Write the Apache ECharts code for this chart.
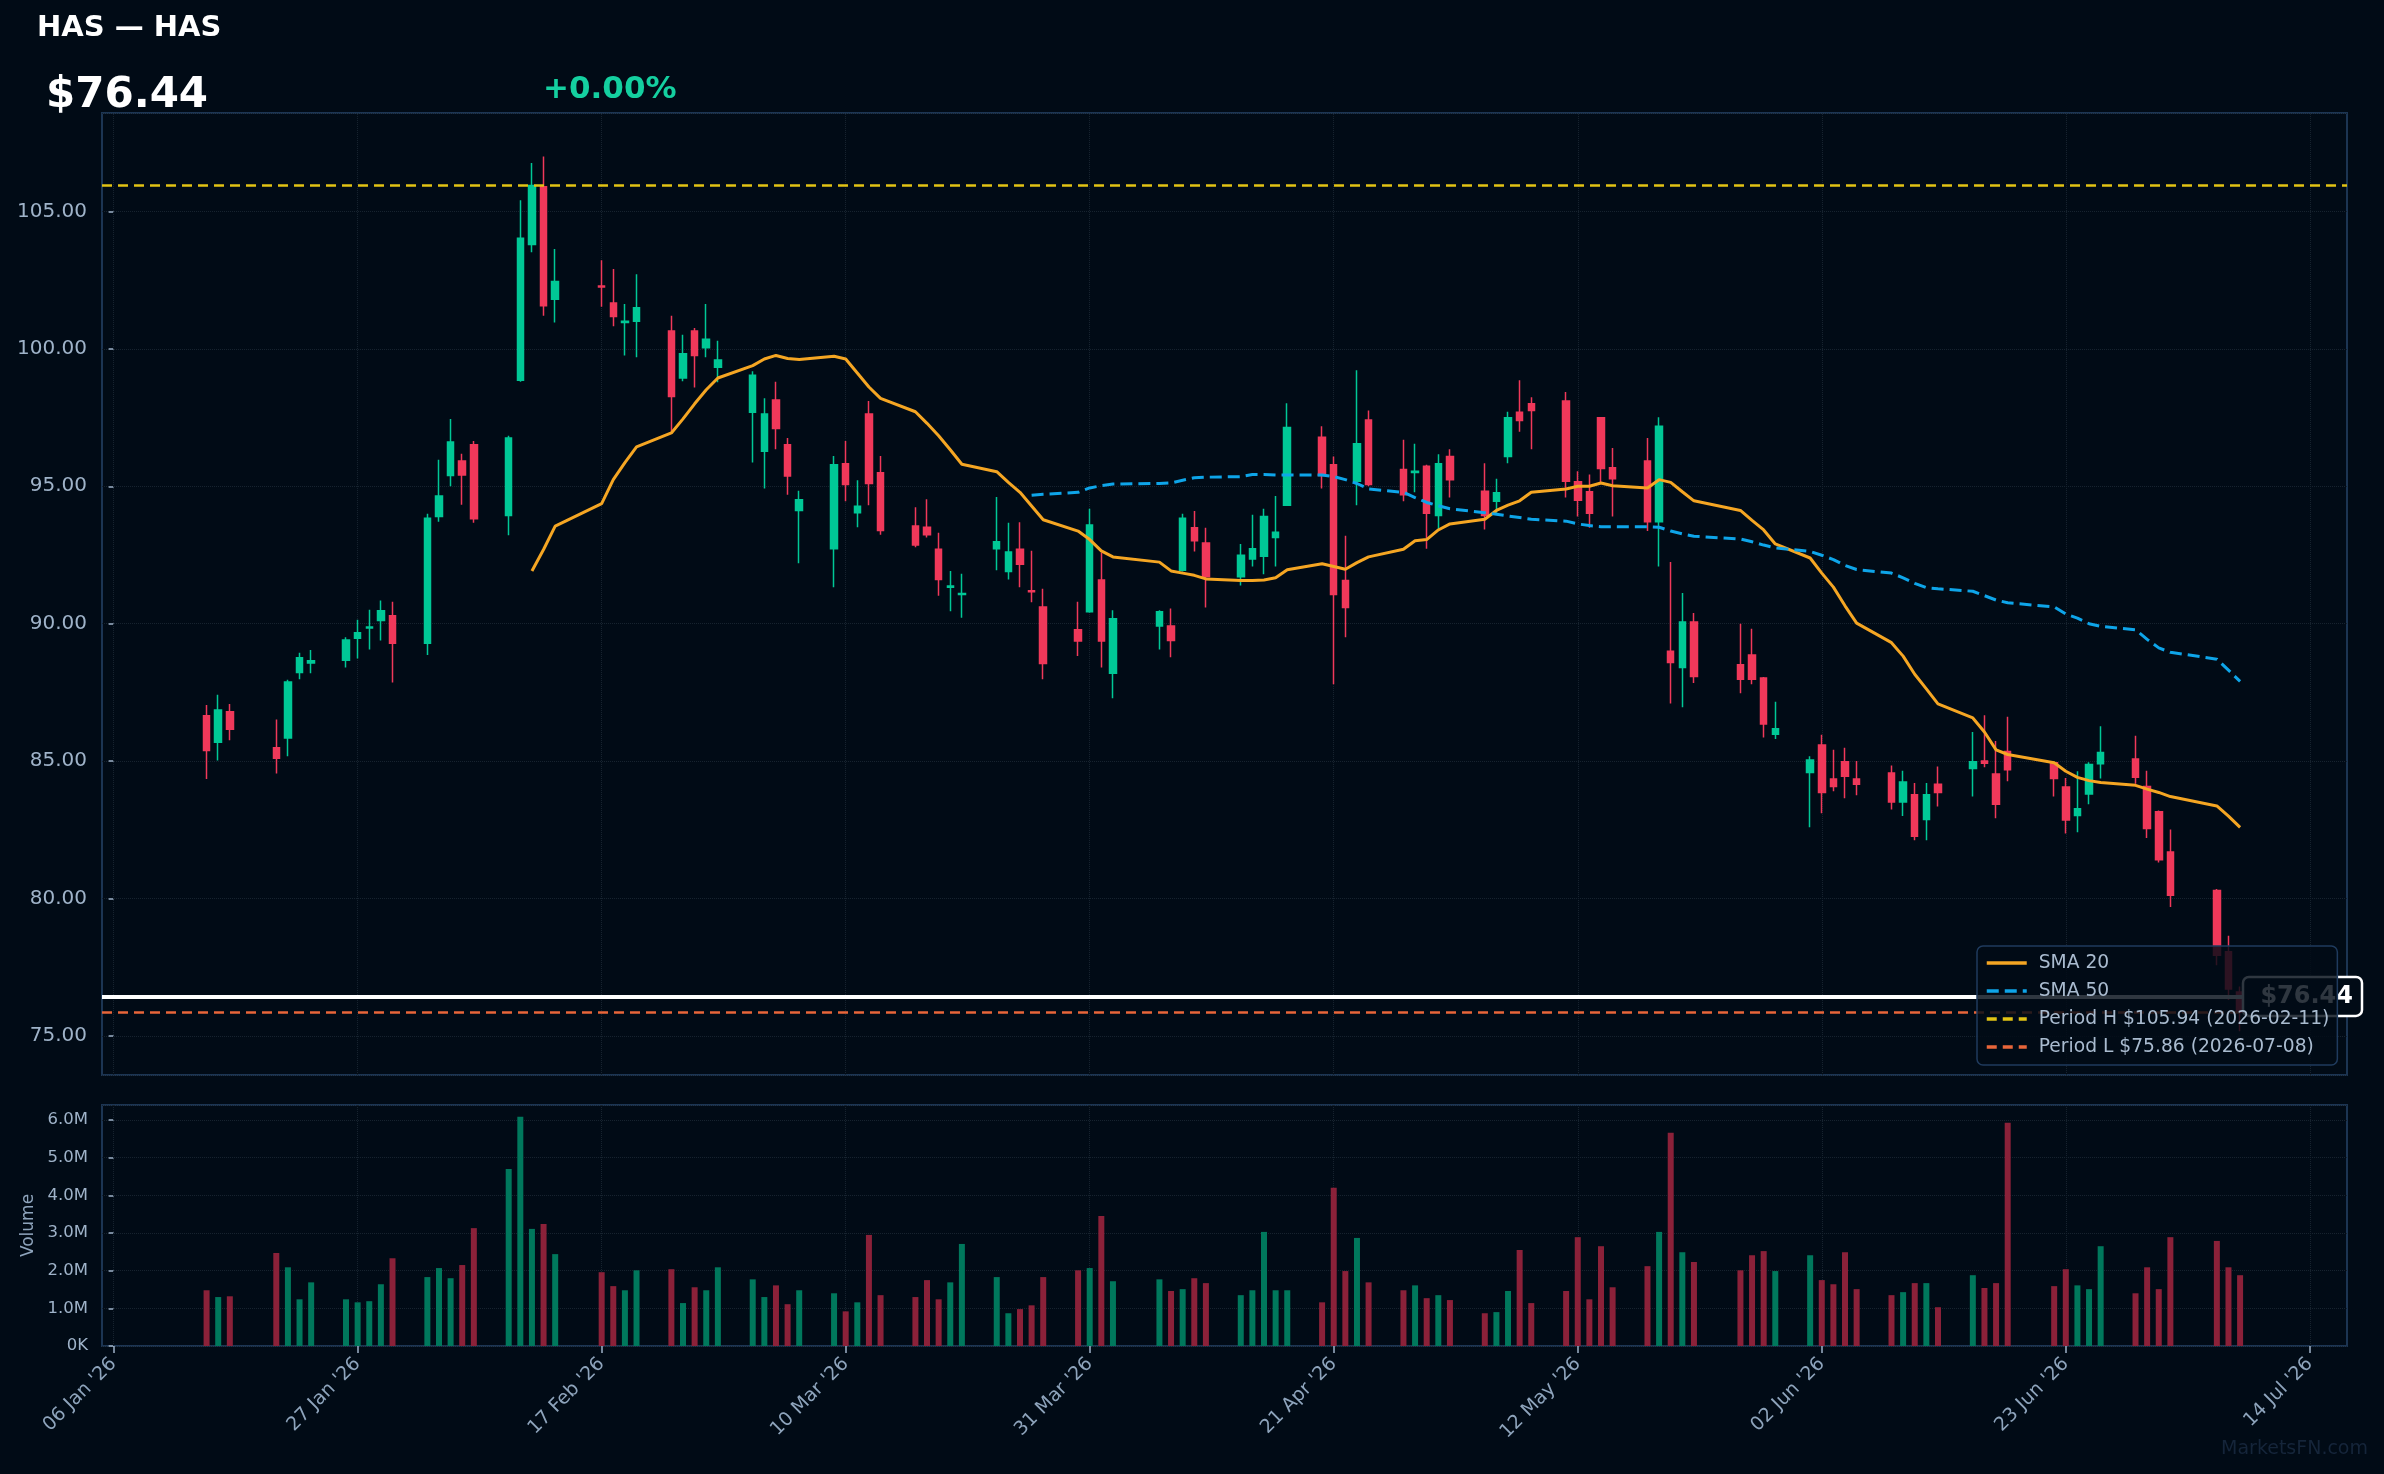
<!DOCTYPE html>
<html>
<head>
<meta charset="utf-8">
<title>HAS — HAS</title>
<script src="https://cdn.jsdelivr.net/npm/echarts@6.0.0/dist/echarts.min.js"></script>
<style>
	html, body { margin: 0; padding: 0; background: #010b16; }
	#main { width: 2384px; height: 1474px; }
</style>
</head>
<body>
<div id="main"></div>
<script>
	// trading days shown
	var dates = [
		'2026-01-14', '2026-01-15', '2026-01-16', '2026-01-20', '2026-01-21', '2026-01-22', '2026-01-23',
		'2026-01-26', '2026-01-27', '2026-01-28', '2026-01-29', '2026-01-30',
		'2026-02-02', '2026-02-03', '2026-02-04', '2026-02-05', '2026-02-06', '2026-02-09', '2026-02-10',
		'2026-02-11', '2026-02-12', '2026-02-13', '2026-02-17', '2026-02-18', '2026-02-19', '2026-02-20',
		'2026-02-23', '2026-02-24', '2026-02-25', '2026-02-26', '2026-02-27',
		'2026-03-02', '2026-03-03', '2026-03-04', '2026-03-05', '2026-03-06', '2026-03-09', '2026-03-10',
		'2026-03-11', '2026-03-12', '2026-03-13', '2026-03-16', '2026-03-17', '2026-03-18', '2026-03-19',
		'2026-03-20', '2026-03-23', '2026-03-24', '2026-03-25', '2026-03-26', '2026-03-27', '2026-03-30',
		'2026-03-31',
		'2026-04-01', '2026-04-02', '2026-04-06', '2026-04-07', '2026-04-08', '2026-04-09', '2026-04-10',
		'2026-04-13', '2026-04-14', '2026-04-15', '2026-04-16', '2026-04-17', '2026-04-20', '2026-04-21',
		'2026-04-22', '2026-04-23', '2026-04-24', '2026-04-27', '2026-04-28', '2026-04-29', '2026-04-30',
		'2026-05-01', '2026-05-04', '2026-05-05', '2026-05-06', '2026-05-07', '2026-05-08', '2026-05-11',
		'2026-05-12', '2026-05-13', '2026-05-14', '2026-05-15', '2026-05-18', '2026-05-19', '2026-05-20',
		'2026-05-21', '2026-05-22', '2026-05-26', '2026-05-27', '2026-05-28', '2026-05-29',
		'2026-06-01', '2026-06-02', '2026-06-03', '2026-06-04', '2026-06-05', '2026-06-08', '2026-06-09',
		'2026-06-10', '2026-06-11', '2026-06-12', '2026-06-15', '2026-06-16', '2026-06-17', '2026-06-18',
		'2026-06-22', '2026-06-23', '2026-06-24', '2026-06-25', '2026-06-26', '2026-06-29', '2026-06-30',
		'2026-07-01', '2026-07-02', '2026-07-06', '2026-07-07', '2026-07-08'
	];

	var opens = [
		86.65, 85.69, 86.80, 85.49, 85.84, 88.22, 88.57, 88.67, 89.47, 89.84, 90.12, 90.29,
		89.29, 93.90, 95.39, 95.92, 96.51, 93.94, 98.86, 103.80, 105.90, 101.80, 102.29, 101.67, 100.96, 101.00,
		100.65, 98.94, 100.65, 100.04, 99.33,
		97.69, 96.27, 98.14, 96.51, 94.12, 92.73, 95.82, 94.04, 97.63, 95.49, 93.55, 93.51, 92.71, 91.33,
		91.06, 92.73, 91.90, 92.71, 91.20, 90.61, 89.78, 90.43,
		91.59, 88.20, 89.92, 89.92, 91.94, 93.49, 92.94, 91.71, 92.35, 92.45, 93.14, 94.31, 96.78, 95.78,
		91.57, 95.18, 97.41, 95.61, 95.50, 95.73, 93.94,
		96.08, 94.82, 94.45, 96.08, 97.69, 98.00, 98.10, 95.16, 94.80, 97.49, 95.67, 95.92, 93.71, 89.00,
		88.41, 90.06, 88.51, 88.86, 88.02, 85.98,
		84.59, 85.59, 84.35, 84.98, 84.35, 84.57, 83.51, 83.78, 82.88, 84.16, 84.73, 85.00, 84.53, 85.35,
		84.94, 84.06, 83.02, 83.80, 84.90, 85.08, 84.08,
		83.16, 81.69, 80.29, 78.06, 76.60
	];
	var highs = [
		87.04, 87.41, 87.08, 86.51, 87.96, 88.94, 89.04, 89.51, 90.14, 90.51, 90.84, 90.80,
		94.00, 95.96, 97.45, 96.18, 96.65, 96.84, 105.41, 106.76, 107.00, 103.63, 103.22, 102.90, 101.63, 102.71,
		101.20, 100.51, 100.76, 101.63, 100.29,
		99.18, 98.20, 98.80, 96.76, 94.84, 96.10, 96.65, 95.22, 98.10, 96.10, 94.24, 94.53, 93.31, 91.92,
		91.82, 94.61, 93.67, 93.69, 92.65, 91.27, 90.80, 94.18,
		92.59, 90.49, 90.49, 90.55, 94.00, 94.10, 93.49, 92.90, 93.96, 94.18, 94.65, 98.02, 97.18, 96.08,
		93.20, 99.22, 97.76, 96.69, 96.55, 95.78, 96.16,
		96.35, 95.84, 95.27, 97.71, 98.86, 98.24, 98.43, 95.55, 95.43, 97.50, 96.39, 96.76, 97.51, 92.24,
		91.12, 90.39, 90.00, 89.82, 88.06, 87.16,
		85.18, 85.96, 85.41, 85.49, 85.00, 84.84, 84.65, 84.20, 84.20, 84.80, 86.06, 86.67, 85.73, 86.61,
		84.98, 84.39, 84.63, 84.96, 86.27, 85.92, 84.65,
		83.20, 82.51, 80.35, 78.65, 76.80
	];
	var lows = [
		84.35, 85.02, 85.76, 84.55, 85.18, 87.98, 88.20, 88.41, 88.73, 89.06, 89.39, 87.86,
		88.86, 93.71, 95.00, 94.33, 93.67, 93.22, 98.80, 103.51, 101.20, 100.96, 101.53, 100.82, 99.76, 99.69,
		96.98, 98.82, 98.59, 99.69, 98.78,
		95.86, 94.92, 96.35, 94.69, 92.20, 91.33, 94.45, 93.51, 94.31, 93.24, 92.78, 93.14, 91.02, 90.45,
		90.22, 91.94, 91.61, 91.33, 90.78, 87.98, 88.82, 90.40,
		88.41, 87.29, 89.06, 88.78, 91.90, 92.63, 90.59, 91.39, 92.08, 91.80, 92.08, 94.30, 94.92, 87.80,
		89.51, 94.31, 95.00, 94.45, 94.78, 92.73, 93.39,
		94.59, 93.43, 94.04, 95.84, 96.98, 96.35, 94.59, 93.90, 93.49, 95.14, 93.90, 93.37, 92.08, 87.10,
		86.96, 87.84, 87.47, 87.80, 85.86, 85.80,
		82.59, 83.10, 83.90, 83.65, 83.76, 83.24, 83.00, 82.12, 82.12, 83.35, 83.71, 84.78, 82.92, 84.27,
		83.71, 82.37, 82.41, 83.43, 84.37, 84.18, 82.20,
		81.31, 79.69, 77.57, 76.31, 75.17
	];
	var closes = [
		85.39, 86.86, 86.16, 85.10, 87.88, 88.76, 88.65, 89.41, 89.67, 89.88, 90.47, 89.29,
		93.84, 94.65, 96.61, 95.41, 93.82, 96.76, 104.02, 105.94, 101.57, 102.45, 102.25, 101.18, 101.00, 101.49,
		98.27, 99.82, 99.76, 100.35, 99.59,
		99.04, 97.63, 97.10, 95.37, 94.51, 95.78, 95.06, 94.27, 95.10, 93.39, 92.86, 93.24, 91.61, 91.37,
		91.10, 92.98, 92.61, 92.16, 91.16, 88.55, 89.37, 93.59,
		89.37, 90.18, 90.43, 89.39, 93.84, 93.02, 91.71, 92.49, 92.73, 93.90, 93.33, 97.14, 95.39, 91.06,
		90.59, 96.55, 95.06, 94.69, 95.55, 94.02, 95.82,
		95.24, 93.94, 94.76, 97.49, 97.39, 97.76, 95.18, 94.49, 94.02, 95.65, 95.27, 93.71, 97.18, 88.59,
		90.06, 88.08, 87.98, 87.98, 86.35, 86.18,
		85.04, 83.86, 84.08, 84.45, 84.16, 83.51, 84.24, 82.27, 83.78, 83.86, 84.98, 84.92, 83.43, 84.69,
		84.37, 82.86, 83.27, 84.88, 85.31, 84.41, 82.55,
		81.41, 80.12, 77.94, 76.71, 75.86
	];
	// volume, millions
	var volumes = [
		1.48, 1.30, 1.32, 2.47, 2.09, 1.24, 1.69, 1.24, 1.16, 1.19, 1.64, 2.33,
		1.83, 2.07, 1.80, 2.15, 3.13, 4.70, 6.09, 3.11, 3.24, 2.44, 1.96, 1.59, 1.48, 2.01,
		2.04, 1.14, 1.56, 1.48, 2.09,
		1.77, 1.30, 1.61, 1.11, 1.48, 1.40, 0.92, 1.16, 2.95, 1.35, 1.30, 1.75, 1.24, 1.69,
		2.71, 1.83, 0.87, 0.98, 1.08, 1.83, 2.01, 2.07,
		3.45, 1.72, 1.77, 1.46, 1.51, 1.80, 1.67, 1.35, 1.48, 3.03, 1.48, 1.48, 1.16, 4.20,
		1.99, 2.87, 1.69, 1.48, 1.61, 1.27, 1.35,
		1.22, 0.87, 0.90, 1.46, 2.55, 1.14, 1.46, 2.89, 1.24, 2.65, 1.56, 2.12, 3.03, 5.66,
		2.49, 2.23, 2.01, 2.41, 2.52, 1.99,
		2.41, 1.75, 1.64, 2.49, 1.51, 1.35, 1.43, 1.67, 1.67, 1.03, 1.88, 1.54, 1.67, 5.93,
		1.59, 2.04, 1.61, 1.51, 2.65, 1.40, 2.09,
		1.51, 2.89, 2.79, 2.09, 1.88
	];

	var sma20From = '2026-02-11';
	var sma20 = [
		91.92, 92.70, 93.55, 94.37, 95.24, 95.86, 96.43, 96.94, 97.45, 98.00, 98.51, 98.94,
		99.39, 99.63, 99.76, 99.65, 99.61, 99.73, 99.63, 99.12, 98.61, 98.20, 97.71, 97.29, 96.84, 96.33,
		95.80, 95.53, 95.14, 94.78, 94.28, 93.78, 93.37, 93.06,
		92.65, 92.43, 92.24, 91.92, 91.84, 91.76, 91.63, 91.57, 91.57, 91.59, 91.67, 91.96, 92.18, 92.08,
		91.98, 92.22, 92.43, 92.71, 93.02, 93.06, 93.41,
		93.63, 93.80, 94.12, 94.31, 94.47, 94.78, 94.90, 95.00, 95.00, 95.12, 95.02, 94.94, 95.24, 95.14,
		94.80, 94.47, 94.12, 93.76, 93.41, 92.90,
		92.39, 91.84, 91.33, 90.65, 90.02, 89.31, 88.82, 88.16, 87.63, 87.08, 86.57, 86.06, 85.41, 85.24,
		84.94, 84.63, 84.41, 84.29, 84.22, 84.12, 83.98,
		83.86, 83.71, 83.37, 83.00, 82.59
	];
	var sma50From = '2026-03-26';
	var sma50 = [
		94.67, 94.71, 94.78, 94.94,
		95.02, 95.08, 95.10, 95.12, 95.22, 95.31, 95.33, 95.35, 95.43, 95.43, 95.41, 95.41, 95.41, 95.35,
		95.24, 95.10, 94.90, 94.78, 94.59, 94.41, 94.29,
		94.18, 94.04, 93.98, 93.92, 93.86, 93.80, 93.73, 93.63, 93.57, 93.53, 93.53, 93.53, 93.51, 93.37,
		93.27, 93.18, 93.08, 92.98, 92.86, 92.76,
		92.63, 92.49, 92.33, 92.12, 91.97, 91.84, 91.67, 91.47, 91.31, 91.27, 91.18, 91.02, 90.86, 90.76,
		90.61, 90.35, 90.20, 90.00, 89.90, 89.78, 89.43,
		89.12, 88.96, 88.71, 88.31, 87.90
	];

	var tickDates = ['2026-01-06', '2026-01-27', '2026-02-17', '2026-03-10', '2026-03-31',
		'2026-04-21', '2026-05-12', '2026-06-02', '2026-06-23', '2026-07-14'];

	var symbol = 'HAS';
	var lastPrice = 76.44;
	var changePct = 0.00;
	var periodHigh = 105.94, periodHighDate = '2026-02-11';
	var periodLow = 75.86, periodLowDate = '2026-07-08';

	var BG = '#010b16',
		UP = '#00c896',
		DOWN = '#f0385a',
		VOL_UP = '#00785c',
		VOL_DOWN = '#8b2139',
		GRID_LINE = '#17232f',
		BORDER = '#1c3553',
		LABEL = '#9fb3c9',
		FONT = '"DejaVu Sans", sans-serif';
	var MONTHS = ['Jan', 'Feb', 'Mar', 'Apr', 'May', 'Jun', 'Jul', 'Aug', 'Sep', 'Oct', 'Nov', 'Dec'];
	var DAY = 86400000;
	var ORIGIN = '2026-01-06';

	function ts(s) {
		var p = s.split('-');
		return new Date(+p[0], +p[1] - 1, +p[2]).getTime();
	}

	// x position = calendar days since ORIGIN
	function dayNum(s) {
		return Math.round((ts(s) - ts(ORIGIN)) / DAY);
	}

	function pad2(n) {
		return n < 10 ? '0' + n : '' + n;
	}

	function dayLabel(v) {
		var d = new Date(ts(ORIGIN) + Math.round(v) * DAY + 12 * 3600000);
		return pad2(d.getDate()) + ' ' + MONTHS[d.getMonth()] + " '" + String(d.getFullYear()).slice(2);
	}

	var candleData = [],
		volData = [];
	for (var i = 0; i < dates.length; i++) {
		var x = dayNum(dates[i]);
		candleData.push([x, opens[i], closes[i], lows[i], highs[i]]);
		volData.push({
			value: [x, volumes[i]],
			itemStyle: { color: closes[i] >= opens[i] ? VOL_UP : VOL_DOWN }
		});
	}

	function smaSeriesData(arr, from) {
		var start = dates.indexOf(from);
		var out = [];
		for (var k = 0; k < arr.length && start + k < dates.length; k++) {
			out.push([dayNum(dates[start + k]), arr[k]]);
		}
		return out;
	}

	var tickValues = tickDates.map(dayNum);
	var xMin = -1.0,
		xMax = dayNum('2026-07-14') + 3.2;

	var nameH = 'Period H $' + periodHigh.toFixed(2) + ' (' + periodHighDate + ')';
	var nameL = 'Period L $' + periodLow.toFixed(2) + ' (' + periodLowDate + ')';

	function xAxisFor(idx, showLabels) {
		return {
			type: 'value',
			gridIndex: idx,
			min: xMin,
			max: xMax,
			axisLine: { show: false },
			splitLine: { show: false },
			axisTick: {
				show: showLabels,
				customValues: tickValues,
				length: 7,
				lineStyle: { color: LABEL, width: 1.5 }
			},
			axisLabel: {
				show: showLabels,
				customValues: tickValues,
				rotate: 45,
				margin: 15,
				color: '#8ea4bc',
				fontSize: 19,
				fontFamily: FONT,
				formatter: dayLabel
			}
		};
	}

	// vertical grid lines at the date ticks
	function vGrid(idx) {
		return {
			type: 'line',
			name: 'vgrid' + idx,
			xAxisIndex: idx,
			yAxisIndex: idx,
			data: [],
			silent: true,
			markLine: {
				z: 1,
				silent: true,
				symbol: ['none', 'none'],
				label: { show: false },
				lineStyle: { color: GRID_LINE, type: 'dotted', width: 1 },
				data: tickValues.map(function(v) { return { xAxis: v }; })
			}
		};
	}

	function hLine(name, value, color, type, width) {
		return {
			type: 'line',
			name: name,
			xAxisIndex: 0,
			yAxisIndex: 0,
			data: [],
			symbol: 'none',
			lineStyle: { color: color, type: type, width: width },
			markLine: {
				z: 3,
				silent: true,
				symbol: ['none', 'none'],
				label: { show: false },
				lineStyle: { color: color, type: type, width: width },
				data: [{ yAxis: value }]
			}
		};
	}

	var chart = echarts.init(document.getElementById('main'));

	var option = {
		backgroundColor: BG,
		animation: false,
		textStyle: { fontFamily: FONT },
		grid: [{
			left: 102,
			top: 113,
			right: 37,
			height: 962,
			show: true,
			borderColor: BORDER,
			borderWidth: 2
		}, {
			left: 102,
			top: 1105,
			right: 37,
			height: 241,
			show: true,
			borderColor: BORDER,
			borderWidth: 2
		}],
		xAxis: [xAxisFor(0, false), xAxisFor(1, true)],
		yAxis: [{
			type: 'value',
			gridIndex: 0,
			min: 73.58,
			max: 108.58,
			splitNumber: 7,
			axisLine: { show: false },
			axisTick: { show: true, length: 5, lineStyle: { color: LABEL, width: 1.5 } },
			axisLabel: {
				color: LABEL,
				fontSize: 20,
				fontFamily: FONT,
				margin: 15,
				showMinLabel: false,
				showMaxLabel: false,
				formatter: function(v) { return v.toFixed(2); }
			},
			splitLine: { show: true, lineStyle: { color: GRID_LINE, type: 'dotted', width: 1 } }
		}, {
			type: 'value',
			gridIndex: 1,
			min: 0,
			max: 6.4,
			interval: 1,
			name: 'Volume',
			nameLocation: 'middle',
			nameGap: 64,
			nameTextStyle: { color: '#8ea4bc', fontSize: 17, fontFamily: FONT },
			axisLine: { show: false },
			axisTick: { show: true, length: 5, lineStyle: { color: LABEL, width: 1.5 } },
			axisLabel: {
				color: LABEL,
				fontSize: 16.5,
				fontFamily: FONT,
				margin: 14,
				showMaxLabel: false,
				formatter: function(v) { return v === 0 ? '0K' : v.toFixed(1) + 'M'; }
			},
			splitLine: { show: true, lineStyle: { color: GRID_LINE, type: 'dotted', width: 1 } }
		}],
		legend: {
			data: ['SMA 20', 'SMA 50', nameH, nameL],
			orient: 'vertical',
			left: 1977,
			top: 946,
			z: 10,
			padding: [7, 8, 8, 8],
			itemGap: 8,
			itemWidth: 40,
			itemHeight: 14,
			selectedMode: false,
			backgroundColor: 'rgba(1, 11, 22, 0.82)',
			borderColor: '#1f3b5e',
			borderWidth: 1.5,
			borderRadius: 6,
			itemStyle: { opacity: 0 },
			lineStyle: { width: 3.5 },
			textStyle: { color: '#a9bbcf', fontSize: 18.7, fontFamily: FONT, lineHeight: 20, padding: [0, 0, 0, 7] }
		},
		series: [
			vGrid(0),
			vGrid(1),
			{
				type: 'candlestick',
				name: symbol,
				xAxisIndex: 0,
				yAxisIndex: 0,
				barWidth: 7,
				data: candleData,
				encode: { x: 0, y: [1, 2, 3, 4] },
				itemStyle: {
					color: UP,
					color0: DOWN,
					borderColor: UP,
					borderColor0: DOWN,
					borderWidth: 1.5
				}
			},
			{
				type: 'bar',
				name: 'Volume',
				xAxisIndex: 1,
				yAxisIndex: 1,
				barWidth: 6,
				data: volData
			},
			{
				type: 'line',
				name: 'SMA 20',
				xAxisIndex: 0,
				yAxisIndex: 0,
				symbol: 'none',
				z: 3,
				data: smaSeriesData(sma20, sma20From),
				lineStyle: { color: '#f5a623', width: 3 }
			},
			{
				type: 'line',
				name: 'SMA 50',
				xAxisIndex: 0,
				yAxisIndex: 0,
				symbol: 'none',
				z: 3,
				data: smaSeriesData(sma50, sma50From),
				lineStyle: { color: '#0ea5e9', width: 3, type: [12, 6] }
			},
			hLine(nameH, periodHigh, '#e2c314', [10, 6], 2.5),
			hLine(nameL, periodLow, '#e8663a', [10, 6], 2.5),
			hLine('Last', lastPrice, '#ffffff', 'solid', 4)
		],
		graphic: [{
			id: 'title',
			type: 'text',
			x: 37,
			y: 28,
			style: {
				text: symbol + ' — ' + symbol,
				fill: '#ffffff',
				font: 'bold 29px ' + FONT,
				verticalAlign: 'middle'
			}
		}, {
			id: 'price',
			type: 'text',
			x: 46,
			y: 96,
			style: {
				text: '$' + lastPrice.toFixed(2),
				fill: '#ffffff',
				font: 'bold 42px ' + FONT,
				verticalAlign: 'middle'
			}
		}, {
			id: 'change',
			type: 'text',
			x: 543,
			y: 90,
			style: {
				text: (changePct >= 0 ? '+' : '') + changePct.toFixed(2) + '%',
				fill: '#14d0a0',
				font: 'bold 31px ' + FONT,
				verticalAlign: 'middle'
			}
		}, {
			id: 'mark',
			type: 'text',
			x: 2368,
			y: 1449,
			style: {
				text: 'MarketsFN.com',
				fill: '#15253a',
				font: '19px ' + FONT,
				align: 'right',
				verticalAlign: 'middle'
			}
		}]
	};

	chart.setOption(option);

	// last price tag on the right edge
	var tagY = chart.convertToPixel({ yAxisIndex: 0 }, lastPrice);
	chart.setOption({
		graphic: [{
			id: 'tagBox',
			type: 'rect',
			z: 6,
			shape: { x: 2243, y: tagY - 19.5, width: 119, height: 39, r: 6 },
			style: { fill: BG, stroke: '#ffffff', lineWidth: 2.5 }
		}, {
			id: 'tagText',
			type: 'text',
			z: 7,
			x: 2353,
			y: tagY,
			style: {
				text: '$' + lastPrice.toFixed(2),
				fill: '#ffffff',
				font: 'bold 24px ' + FONT,
				align: 'right',
				verticalAlign: 'middle'
			}
		}]
	});
</script>
</body>
</html>
